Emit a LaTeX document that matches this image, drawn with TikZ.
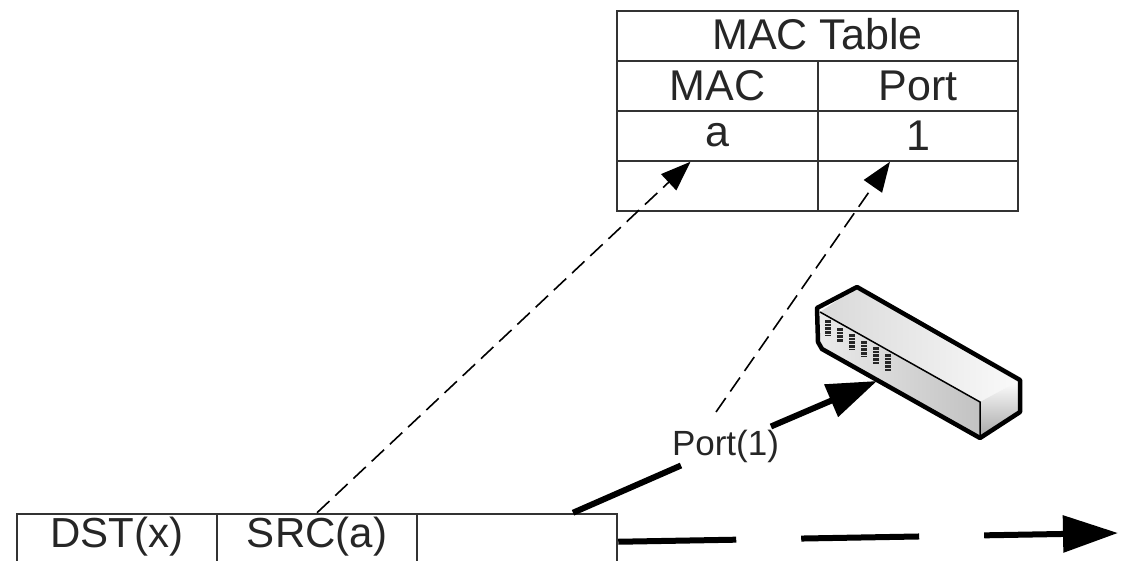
\documentclass[tikz,border=0pt]{standalone}
\usepackage{fontspec}
\setmainfont{Liberation Sans}
\usetikzlibrary{calc,arrows.meta}
\definecolor{rule}{HTML}{333333}
\tikzset{
  macell/.style={draw=rule,line width=2.5pt,minimum height=50pt,inner sep=0pt,text=black!85,font=\fontsize{43}{43}\selectfont},
  fieldcell/.style={draw=rule,line width=2.5pt,minimum width=200pt,minimum height=100pt,inner sep=0pt},
  fieldtext/.style={inner sep=0pt,text=black!85,font=\fontsize{42}{42}\selectfont},
  lookup/.style={line width=1.6pt,dashed,dash pattern=on 17pt off 8pt,-{Triangle[length=30pt,width=22pt]}},
  heavy/.style={line width=6pt},
}
\begin{document}
\begin{tikzpicture}[x=1pt,y=-1pt]
\useasboundingbox (0,0) rectangle (1124,561);
\clip (0,0) rectangle (1124,561);
% table
\node[macell,minimum width=401pt] (mactitle) at (817.5,36) {\raisebox{4pt}{MAC Table}};
\foreach \i/\mac/\port/\row in {86/MAC/Port/head,136/a/1/first,186//{}/blank}{
  \node[macell,minimum width=201pt] (mac\row) at (717.5,\i) {\raisebox{1.5pt}{\mac}};
  \node[macell,minimum width=200pt] (port\row) at (918,\i) {\raisebox{1.5pt}{\port}};
}
% frame
\foreach \i/\field/\name in {117/DST(x)/dst,317/SRC(a)/src,517//data}{
  \node[fieldcell] (\name) at (\i,564) {};
  \node[fieldtext] (\name text) at (\i,537) {\field};
}
% switch
\shade[left color=black!15,right color=black!2] (857,287)--(1020,380)--(980,402)--(820,312)--cycle;
\shade[left color=black!8,right color=black!24] (820,312)--(980,402)--(980,438)--(818,345)--cycle;
\shade[top color=white,bottom color=black!35] (980,402)--(1020,380)--(1020,412)--(980,438)--cycle;
\draw[line width=1.5pt] (820,312)--(980,402)--(980,438);
\draw[line width=4.5pt,line join=round] (857,287)--(1020,380)--(1020,412)--(980,438)--(822,349)--(818,342)--(817,308)--cycle;
\foreach \i/\a/\b in {0/320/335,1/328/342,2/334/350,3/341/357,4/347/365,5/354/371}{
  \draw[line width=5.5pt,dash pattern=on 2.5pt off 1.2pt,black!85] ({828+\i*12},\a)--({828+\i*12},\b);
}
\coordinate (switchport) at (877,381);
% connectors
\node[inner sep=3pt,text=black!85,font=\fontsize{35}{35}\selectfont] (portlabel) at (725.5,446) {Port(1)};
\coordinate (portdash) at (716,412);
\draw[lookup] ($(src.north)+(0,0)$) -- ($(macblank.north)+(-27,2)$);
\draw[lookup] (portdash) -- ($(portblank.north)+(-28,2)$);
\draw[heavy] ($(data.north)+(56,0)$) -- (portlabel);
\draw[heavy,-{Triangle[length=50pt,width=34pt]}] (portlabel) -- (switchport);
\coordinate (frameout) at (1118,533);
\draw[heavy,dash pattern=on 118pt off 65pt,-{Triangle[length=55pt,width=36pt]}] ($(data.north east)+(0,29)$) -- (frameout);
\end{tikzpicture}
\end{document}
